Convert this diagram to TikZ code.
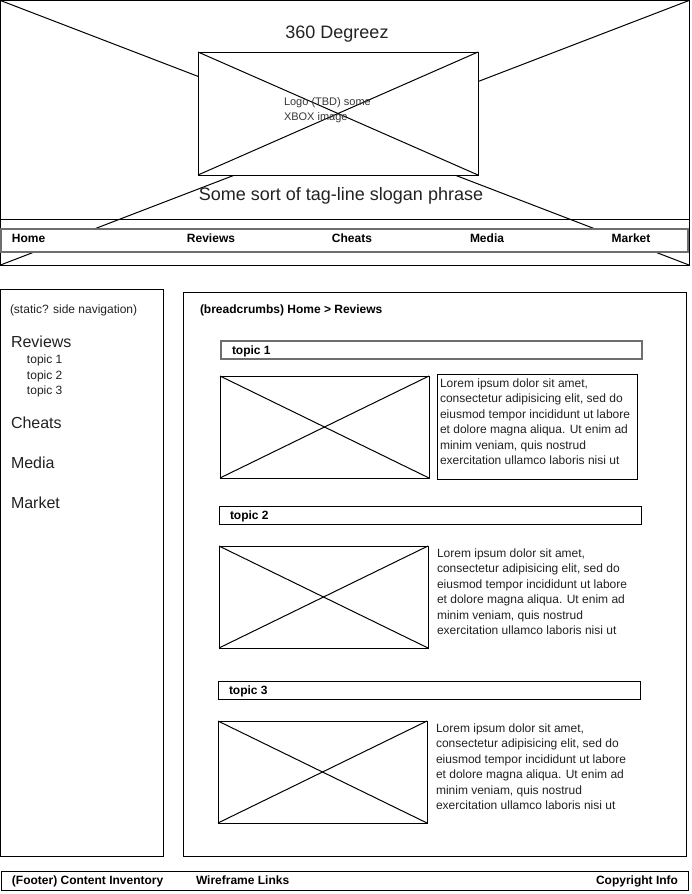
\documentclass[tikz,border=0pt]{standalone}
\usepackage{fontspec}
\setmainfont{Liberation Sans}
\definecolor{gbor}{HTML}{6E6E6E}
\definecolor{tcol}{HTML}{222222}
\begin{document}
\begin{tikzpicture}[x=1pt,y=-1pt,
  box/.style={draw=black,line width=1pt,fill=white,inner sep=0pt,outer sep=0pt,anchor=north west},
  graybox/.style={box,draw=gbor,line width=1.5pt},
  txt/.style={inner sep=0pt,outer sep=0pt,anchor=base west,text=tcol},
  fa/.style={font=\fontsize{12}{14}\selectfont},
  fb/.style={font=\bfseries\fontsize{12}{14}\selectfont,text=black},
  fbig/.style={font=\fontsize{18}{21}\selectfont},
  fmid/.style={font=\fontsize{16}{19}\selectfont},
  fsm/.style={font=\fontsize{11}{13}\selectfont,text=tcol!90!white},
  xline/.style={draw=black,line width=1pt}
]
\useasboundingbox (0,0) rectangle (692,894);

% ---------- header ----------
\node[box,fill=none,minimum width=688.5pt,minimum height=264.5pt] (hdr) at (0.5,0.5) {};
\draw[xline] (hdr.north west) -- (hdr.south east);
\draw[xline] (hdr.south west) -- (hdr.north east);
\coordinate (hl) at (0.5,219);
\coordinate (hr) at (689,219);
\draw[xline] (hl) -- (hr);
\node[graybox,minimum width=687pt,minimum height=23pt] (nav) at (1,229) {};
\node[box,minimum width=280pt,minimum height=123pt] (logo) at (198,52) {};
\draw[xline] (logo.north west) -- (logo.south east);
\draw[xline] (logo.south west) -- (logo.north east);

\node[txt,fbig,anchor=base] (title) at (337,38) {360 Degreez};
\node[txt,fbig,anchor=base] (tag) at (341,200) {Some sort of tag-line slogan phrase};
\node[txt,fsm] (logot1) at (284,105) {Logo (TBD) some};
\node[txt,fsm] (logot2) at (284,120.5) {XBOX image};

\node[txt,fb] (navhome) at (12,242) {Home};
\node[txt,fb,anchor=base] (navrev) at (211,242) {Reviews};
\node[txt,fb,anchor=base] (navche) at (352,242) {Cheats};
\node[txt,fb,anchor=base] (navmed) at (487,242) {Media};
\node[txt,fb,anchor=base] (navmar) at (631,242) {Market};

% ---------- side navigation ----------
\node[box,minimum width=163pt,minimum height=567pt] (side) at (0.5,289) {};
\node[txt,fa] (sidet) at (10,313) {(static? side navigation)};
\node[txt,fmid] (srev) at (11,347) {Reviews};
\node[txt,fa] (st1) at (27,363.5) {topic 1};
\node[txt,fa] (st2) at (27,379) {topic 2};
\node[txt,fa] (st3) at (27,394.5) {topic 3};
\node[txt,fmid] (sche) at (11,428) {Cheats};
\node[txt,fmid] (smed) at (11,468) {Media};
\node[txt,fmid] (smar) at (11,508) {Market};

% ---------- main content ----------
\node[box,minimum width=503pt,minimum height=564pt] (main) at (183,292) {};
\node[txt,fb] (crumbs) at (200,313) {(breadcrumbs) Home > Reviews};

\node[graybox,minimum width=421pt,minimum height=18pt] (bar1) at (221,341) {};
\node[txt,fb] (bar1t) at (232,354.5) {topic 1};
\node[box,minimum width=209pt,minimum height=102pt] (img1) at (220,376) {};
\draw[xline] (img1.north west) -- (img1.south east);
\draw[xline] (img1.south west) -- (img1.north east);
\node[box,minimum width=200pt,minimum height=105pt] (tbox1) at (437,374) {};

\node[box,minimum width=422pt,minimum height=18pt] (bar2) at (219,506) {};
\node[txt,fb] (bar2t) at (230,519.5) {topic 2};
\node[box,minimum width=209pt,minimum height=102pt] (img2) at (219,546) {};
\draw[xline] (img2.north west) -- (img2.south east);
\draw[xline] (img2.south west) -- (img2.north east);

\node[box,minimum width=422pt,minimum height=18pt] (bar3) at (218,681) {};
\node[txt,fb] (bar3t) at (229,694.5) {topic 3};
\node[box,minimum width=209pt,minimum height=102pt] (img3) at (218,721) {};
\draw[xline] (img3.north west) -- (img3.south east);
\draw[xline] (img3.south west) -- (img3.north east);

\foreach \b/\x/\y in {1/440/387.3, 2/437/557, 3/436/732}{
  \foreach \t [count=\i from 0] in {{Lorem ipsum dolor sit amet,},{consectetur adipisicing elit, sed do},{eiusmod tempor incididunt ut labore},{et dolore magna aliqua. Ut enim ad},{minim veniam, quis nostrud},{exercitation ullamco laboris nisi ut}}{
    \node[txt,fa] (lorem\b-\i) at (\x,\y+15.5*\i) {\t};
  }
}

% ---------- footer ----------
\node[box,minimum width=687pt,minimum height=19pt] (foot) at (1,871) {};
\node[txt,fb] (foot1) at (12,884.5) {(Footer) Content Inventory};
\node[txt,fb] (foot2) at (196,884.5) {Wireframe Links};
\node[txt,fb,anchor=base east] (foot3) at (678,884.5) {Copyright Info};
\end{tikzpicture}
\end{document}
